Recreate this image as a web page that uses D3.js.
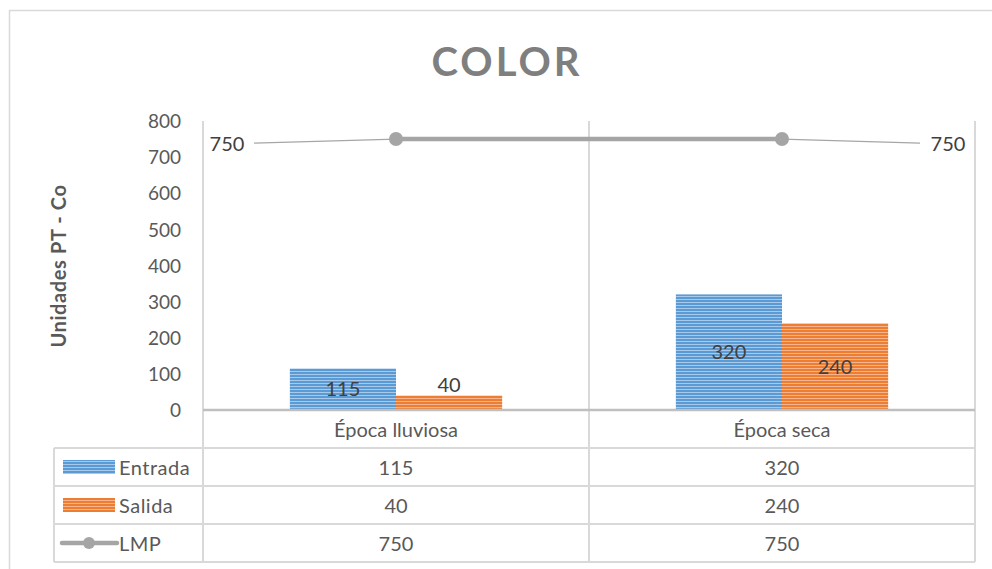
<!DOCTYPE html>
<html>
<head>
<meta charset="utf-8">
<script src="https://cdn.jsdelivr.net/npm/d3@7"></script>
<style>
  html, body { margin: 0; padding: 0; background: #fff; }
  svg { display: block; }
  text { font-family: Lato, "Open Sans", sans-serif; fill: #595959; }
</style>
</head>
<body>
<svg id="chart" width="992" height="569"></svg>
<script>
// Chart data
const categories = ["Época lluviosa", "Época seca"];
const entrada = [115, 320];
const salida = [40, 240];
const lmp = [750, 750];
const yTicks = [0, 100, 200, 300, 400, 500, 600, 700, 800];
const seriesNames = ["Entrada", "Salida", "LMP"];

const colors = { Entrada: "#5b9bd5", Salida: "#ed7d31", LMP: "#a5a5a5" };

const svg = d3.select("#chart");

// Layout
const plot = { left: 203, right: 975, top: 121, bottom: 410 };
const table = { left: 54, rowTop: [410, 448, 486, 524], bottom: 562 };

// Stripe patterns for bars
const defs = svg.append("defs");
function stripe(id, color, light) {
  const p = defs.append("pattern")
    .attr("id", id).attr("patternUnits", "userSpaceOnUse")
    .attr("width", 6).attr("height", 3);
  p.append("rect").attr("width", 6).attr("height", 3).attr("fill", color);
  p.append("rect").attr("y", 2).attr("width", 6).attr("height", 1).attr("fill", light);
}
stripe("pat-entrada", colors.Entrada, "#a9c9ea");
stripe("pat-salida", colors.Salida, "#f5b48f");

// Outer chart frame
svg.append("rect").attr("x", 9.5).attr("y", 10.5)
  .attr("width", 1000).attr("height", 600)
  .attr("fill", "none").attr("stroke", "#d9d9d9").attr("stroke-width", 1.5);

// Title
svg.append("text").attr("x", 507).attr("y", 76)
  .attr("text-anchor", "middle")
  .style("font-size", "40px").style("font-weight", "bold")
  .style("letter-spacing", "3px").style("fill", "#7f7f7f")
  .text("COLOR");

// Scales
const x = d3.scaleBand().domain(categories).range([plot.left, plot.right]);
const y = d3.scaleLinear().domain([0, 800]).range([plot.bottom, plot.top]);
const inner = d3.scaleBand().domain(["Entrada", "Salida"])
  .range([0, x.bandwidth() * 0.55]);
const groupOffset = (x.bandwidth() - inner.range()[1]) / 2;

// Y axis (labels only)
const yAxis = d3.axisLeft(y).tickValues(yTicks).tickSize(0).tickPadding(0);
const gy = svg.append("g").attr("transform", `translate(${181},0)`).call(yAxis);
gy.select(".domain").remove();
gy.selectAll("text").style("font-size", "19px").style("fill", "#595959")
  .style("font-family", "Lato, 'Open Sans', sans-serif")
  .attr("dy", "0.35em");

// Y axis title
svg.append("text")
  .attr("transform", `translate(66,266) rotate(-90)`)
  .attr("text-anchor", "middle")
  .style("font-size", "20px").style("font-weight", "bold")
  .style("letter-spacing", "0.6px")
  .text("Unidades PT - Co");

// Vertical grid / table column lines
const colEdges = [plot.left, x(categories[1]), plot.right];
svg.append("g").selectAll("line").data(colEdges).join("line")
  .attr("x1", d => d).attr("x2", d => d)
  .attr("y1", plot.top).attr("y2", table.bottom)
  .attr("stroke", "#d9d9d9").attr("stroke-width", 2);

// Table horizontal lines and legend column border
const tg = svg.append("g");
table.rowTop.slice(1).concat([table.bottom]).forEach(yy => {
  tg.append("line").attr("x1", table.left).attr("x2", plot.right)
    .attr("y1", yy).attr("y2", yy)
    .attr("stroke", "#d9d9d9").attr("stroke-width", 2);
});
tg.append("line").attr("x1", table.left).attr("x2", table.left)
  .attr("y1", table.rowTop[1]).attr("y2", table.bottom)
  .attr("stroke", "#d9d9d9").attr("stroke-width", 2);

// Bars
const barData = [];
categories.forEach((c, i) => {
  barData.push({ cat: c, s: "Entrada", v: entrada[i] });
  barData.push({ cat: c, s: "Salida", v: salida[i] });
});
svg.append("g").selectAll("rect").data(barData).join("rect")
  .attr("x", d => x(d.cat) + groupOffset + inner(d.s))
  .attr("y", d => y(d.v))
  .attr("width", inner.bandwidth())
  .attr("height", d => y(0) - y(d.v))
  .attr("fill", d => d.s === "Entrada" ? "url(#pat-entrada)" : "url(#pat-salida)");

// Bar value labels
svg.append("g").selectAll("text").data(barData).join("text")
  .attr("x", d => x(d.cat) + groupOffset + inner(d.s) + inner.bandwidth() / 2)
  .attr("y", d => {
    const h = y(0) - y(d.v);
    return h < 30 ? y(d.v) - 11 : (y(d.v) + y(0)) / 2;
  })
  .attr("dy", "0.35em")
  .attr("text-anchor", "middle")
  .style("font-size", "20px").style("fill", "#404040")
  .text(d => d.v);

// Category axis line
svg.append("line").attr("x1", plot.left).attr("x2", plot.right)
  .attr("y1", plot.bottom).attr("y2", plot.bottom)
  .attr("stroke", "#bfbfbf").attr("stroke-width", 2.5);

// LMP line with markers
const cx = c => x(c) + x.bandwidth() / 2;
const lmpPts = categories.map((c, i) => [cx(c), y(lmp[i])]);
const lmpLabelPos = [[227, 0], [948, 1]];
// leader lines to the data labels
lmpLabelPos.forEach(([lx, i]) => {
  const [px, py] = lmpPts[i];
  const x0 = i === 0 ? lx + 27 : lx - 28;
  svg.append("line").attr("x1", x0).attr("y1", py + 4).attr("x2", px).attr("y2", py)
    .attr("stroke", "#a6a6a6").attr("stroke-width", 1.2);
  svg.append("text").attr("x", lx).attr("y", py + 5).attr("dy", "0.35em")
    .attr("text-anchor", "middle").style("font-size", "20px").style("fill", "#404040")
    .text(lmp[i]);
});
svg.append("path").datum(lmpPts)
  .attr("d", d3.line())
  .attr("fill", "none").attr("stroke", colors.LMP).attr("stroke-width", 4.5);
svg.append("g").selectAll("circle").data(lmpPts).join("circle")
  .attr("cx", d => d[0]).attr("cy", d => d[1]).attr("r", 7)
  .attr("fill", colors.LMP);

// Data table: header row
categories.forEach(c => {
  svg.append("text").attr("x", cx(c)).attr("y", (table.rowTop[0] + table.rowTop[1]) / 2 + 1)
    .attr("dy", "0.35em").attr("text-anchor", "middle")
    .style("font-size", "20px").text(c);
});

// Data table: series rows
const rows = [entrada, salida, lmp];
rows.forEach((vals, r) => {
  const top = table.rowTop[r + 1];
  const bot = r + 2 < table.rowTop.length ? table.rowTop[r + 2] : table.bottom;
  const my = (top + bot) / 2;
  categories.forEach((c, i) => {
    svg.append("text").attr("x", cx(c)).attr("y", my + 1).attr("dy", "0.35em")
      .attr("text-anchor", "middle").style("font-size", "20px").text(vals[i]);
  });
  const name = seriesNames[r];
  if (name === "LMP") {
    svg.append("line").attr("x1", 62).attr("x2", 117).attr("y1", my).attr("y2", my)
      .attr("stroke", colors.LMP).attr("stroke-width", 4.5).attr("stroke-linecap", "round");
    svg.append("circle").attr("cx", 89).attr("cy", my).attr("r", 6).attr("fill", colors.LMP);
  } else {
    svg.append("rect").attr("x", 63).attr("y", my - 7).attr("width", 52).attr("height", 14)
      .attr("fill", name === "Entrada" ? "url(#pat-entrada)" : "url(#pat-salida)");
  }
  svg.append("text").attr("x", 119).attr("y", my + 1).attr("dy", "0.35em")
    .style("font-size", "20px").style("letter-spacing", "0.5px").text(name);
});
</script>
</body>
</html>
